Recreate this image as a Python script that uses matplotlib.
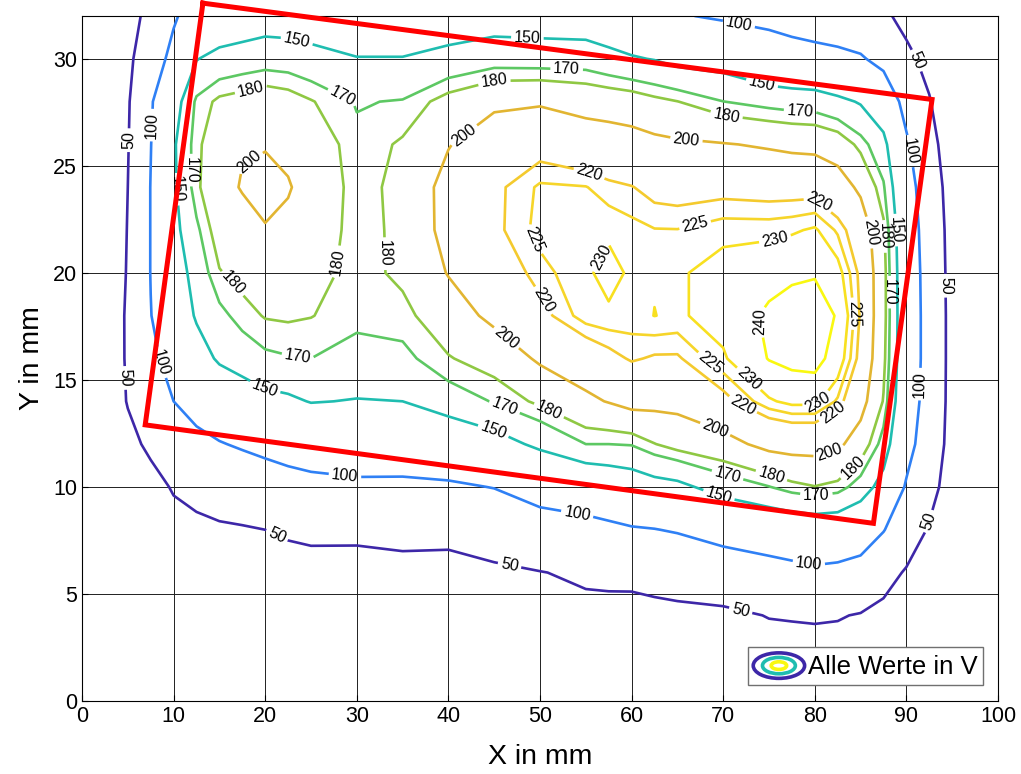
import numpy as np
import matplotlib.pyplot as plt
from matplotlib.patches import Ellipse
from matplotlib.legend_handler import HandlerBase

plt.rcParams['font.family'] = ['Liberation Sans', 'DejaVu Sans']

# measuring grid [mm]
x_mm = [0, 2.5, 5, 7.5, 10, 12.5, 15, 17.5, 20, 22.5, 25, 30, 35, 40, 45, 50, 55,
        57.5, 60, 62.5, 65, 70, 75, 77.5, 80, 82.5, 85, 87.5, 90, 92.5, 95, 97.5, 100]
y_mm = [0, 2, 4, 6, 8, 10, 12, 14, 16, 18, 20, 22, 24, 26, 28, 30, 32]

# voltage [V] along each x column, from y=0 to y=32
u_x000 = [0, 3, 5, 7, 9, 11, 12, 13, 14, 14, 14, 14, 14, 14, 13, 12, 10]
u_x025 = [2, 6, 9, 12, 15, 18, 22, 25, 27, 28, 28, 28, 28, 28, 27, 25, 22]
u_x050 = [5, 10, 14, 18, 22, 27, 40, 52, 54, 54, 52, 51, 50, 48, 46, 41, 32]
u_x075 = [8, 13, 18, 23, 29, 38, 57, 75, 90, 99, 101, 101, 101, 99, 96, 78, 64]
u_x100 = [10, 16, 22, 30, 38, 53, 70, 100, 116, 128, 135, 143, 146, 147, 138, 112, 95]
u_x125 = [12, 17, 24, 32, 40, 64, 90, 114, 137, 153, 160, 167, 177, 177, 173, 149, 120]
u_x150 = [14, 20, 27, 35, 45, 70, 98, 125, 154, 166, 179, 188, 195, 190, 183, 158, 128]
u_x175 = [15, 22, 30, 38, 47, 75, 104, 135, 161, 175, 185, 194, 201, 199, 186, 161, 133]
u_x200 = [16, 25, 33, 41, 50, 80, 110, 143, 167, 181, 190, 199, 205, 199, 190, 163, 138]
u_x225 = [17, 26, 34, 41, 53, 84, 117, 146, 169, 182, 190, 197, 201, 197, 187, 162, 137]
u_x250 = [18, 27, 34, 40, 56, 88, 122, 151, 170, 180.5, 186, 192, 195, 191, 181, 158, 135]
u_x300 = [18, 27, 35, 38, 57, 93, 123, 149, 164, 174, 175, 174, 174, 173, 169, 151, 130]
u_x350 = [18, 27, 35, 42, 58, 93, 122, 150, 166, 176, 183, 184, 185, 182, 171, 151, 130]
u_x400 = [18, 27, 35, 42, 57, 95, 128, 162, 179, 190, 201, 207, 207, 199, 186, 157, 135]
u_x450 = [18, 28, 37, 43, 72, 101, 140, 171, 187, 205, 213, 218, 218, 212, 196, 163, 138]
u_x500 = [20, 30, 40, 49, 80, 118, 155, 183, 203, 217, 223, 227, 226, 216, 198, 162, 137]
u_x550 = [20, 31, 42, 55, 87, 125, 170, 196, 212, 228, 229, 228, 225.3, 211, 193, 162, 135]
u_x575 = [21, 32, 41, 57, 92, 130, 170, 201, 217, 229, 232, 229, 222, 210, 191, 157, 131]
u_x600 = [22, 33, 40, 58, 97, 135, 171, 207, 221, 228, 229, 227, 220.4, 208, 189, 152, 128]
u_x625 = [22, 33, 41, 62, 99, 141, 179.5, 206, 219, 230.1, 229.6, 225.3, 217, 205, 184, 149, 118]
u_x650 = [22, 34, 42, 66, 103, 144, 186, 206, 219, 229, 229, 225.2, 216, 203, 180.3, 143, 103]
u_x700 = [24, 36, 44, 72, 118, 160, 193, 217, 229, 233, 233, 228, 217, 201, 170.2, 140, 95]
u_x750 = [26, 38, 51, 82, 128, 169.5, 206, 229, 240.5, 242, 236, 228, 216, 198, 165, 125, 88]
u_x775 = [26, 38, 52, 88, 131, 176, 208, 232, 243, 245, 238, 229, 216, 196, 163, 121, 80]
u_x800 = [26, 38, 53, 93, 133, 179.5, 208, 232, 244, 246, 239, 231, 216, 195, 162, 118, 72]
u_x825 = [25, 37, 52, 90, 132, 176, 204, 224, 235, 239, 233, 224, 210, 190, 156, 111, 72]
u_x850 = [24, 36, 48, 84, 124, 163, 190, 208, 217, 219, 218, 213, 196, 176, 148, 104, 70]
u_x875 = [22, 33, 42, 62, 102, 140, 164, 179, 184, 186, 186, 183, 172, 158, 130, 88, 56]
u_x900 = [18, 28, 36, 47, 70, 96, 115, 124, 127, 127, 126, 124, 118, 106, 86, 58, 40]
u_x925 = [12, 20, 27, 35, 47, 62, 76, 82, 84, 84, 83, 80, 75, 64, 52, 40, 30]
u_x950 = [8, 14, 20, 25, 30, 34, 36, 37, 37, 37, 36, 35, 32, 28, 24, 20, 16]
u_x975 = [4, 8, 12, 15, 18, 20, 21, 22, 22, 22, 22, 21, 20, 18, 15, 12, 10]
u_x1000 = [2, 4, 6, 8, 10, 11, 12, 12, 12, 12, 12, 12, 11, 10, 9, 7, 6]

levels = [50, 100, 150, 170, 180, 200, 220, 225, 230, 240]
level_colors = ['#3d27a8', '#2f80f5', '#1fbdb0', '#5dc863', '#8fc843',
                '#e2b531', '#f4ca2e', '#f6d52a', '#f8e020', '#f9f810']

# where the labels sit on the lines
label_pos = [(5.0, 26.2), (5.2, 15.1), (21.4, 7.85), (46.7, 6.4), (72, 4.4),
             (91.3, 29.95), (94.4, 19.4), (92.4, 8.4),
             (7.75, 26.9), (8.5, 15.8), (28.7, 10.5), (54, 8.6), (79.3, 6.3),
             (71.6, 31.4), (90.6, 25.7), (91.6, 14.8),
             (10.2, 23.9), (23.3, 30.6), (48.6, 30.7), (74.2, 28.8), (89, 22),
             (69.6, 9.7), (44.9, 12.6), (19.8, 14.5),
             (11.8, 24.8), (28.4, 28.2), (52.9, 29.4), (78.4, 27.6), (88.4, 19.1),
             (80.2, 9.5), (70.5, 10.6), (46.2, 13.8), (23.5, 15.9),
             (18.3, 28.8), (28.2, 20.5), (15.9, 19.3), (33.3, 20.9), (44.9, 29.2),
             (70.4, 27.5), (87.4, 21.7), (84.2, 10.9), (75.1, 10.3), (50.9, 13.5),
             (17.8, 25.5), (41.6, 26.5), (66, 26.3), (86.2, 21.9), (81.7, 11.4),
             (69.3, 12.9), (46.2, 16.9),
             (55.5, 24.8), (80, 23.1), (82.2, 13.3), (72.2, 13.9), (50.3, 18.7),
             (49.1, 21.5), (66.9, 22.3), (84.4, 18.1), (68.8, 15.9),
             (55.5, 21), (75.7, 21.5), (80.4, 13.9), (72.9, 15.1),
             (73.7, 17.7)]

# red frame around the measuring field
frame_x = [13.2, 92.8, 86.4, 6.9, 13.2]
frame_y = [32.6, 28.1, 8.3, 12.9, 32.6]

volt = np.array([u_x000, u_x025, u_x050, u_x075, u_x100, u_x125, u_x150, u_x175,
                 u_x200, u_x225, u_x250, u_x300, u_x350, u_x400, u_x450, u_x500,
                 u_x550, u_x575, u_x600, u_x625, u_x650, u_x700, u_x750, u_x775,
                 u_x800, u_x825, u_x850, u_x875, u_x900, u_x925, u_x950, u_x975,
                 u_x1000]).T


class RingIcon:
    pass


class HandlerRings(HandlerBase):
    def create_artists(self, legend, orig_handle, xdescent, ydescent,
                       width, height, fontsize, trans):
        cx = width / 2 - xdescent
        cy = height / 2 - ydescent
        rings = []
        for f, c in zip([1.0, 0.64, 0.3], ['#3d27a8', '#1fbdb0', '#f9f810']):
            e = Ellipse((cx, cy), width * f, height * f, fill=False,
                        edgecolor=c, lw=2.6, transform=trans)
            rings.append(e)
        return rings


fig = plt.figure(figsize=(10.21, 7.74), dpi=100)
ax = fig.add_axes([82 / 1021, 73 / 774, 916 / 1021, 685 / 774])

cs = ax.contour(x_mm, y_mm, volt, levels=levels, colors=level_colors, linewidths=1.9)
ax.clabel(cs, fmt='%d', fontsize=11.5, colors='k', inline=True,
          inline_spacing=3, manual=label_pos)

ax.plot(frame_x, frame_y, color='red', lw=3.6, clip_on=False, zorder=5,
        solid_joinstyle='miter')

ax.set_xlim(0, 100)
ax.set_ylim(0, 32)
ax.set_xticks(np.arange(0, 101, 10))
ax.set_yticks(np.arange(0, 31, 5))
ax.grid(True, color='#202020', lw=0.7)
ax.set_axisbelow(True)
ax.tick_params(labelsize=15.5, direction='in', length=4)
for s in ax.spines.values():
    s.set_linewidth(0.8)
ax.set_xlabel('X in mm', fontsize=20.5, labelpad=12)
ax.set_ylabel('Y in mm', fontsize=20.5, labelpad=6)

ax.legend([RingIcon()], ['Alle Werte in V'], handler_map={RingIcon: HandlerRings()},
          loc='lower right', bbox_to_anchor=(0.9836, 0.0234), borderaxespad=0,
          fancybox=False, edgecolor='#707070', framealpha=1, fontsize=18.5,
          handlelength=2.0, handleheight=1.15, handletextpad=0.12, borderpad=0.22)

fig.savefig('out.png', dpi=100)
